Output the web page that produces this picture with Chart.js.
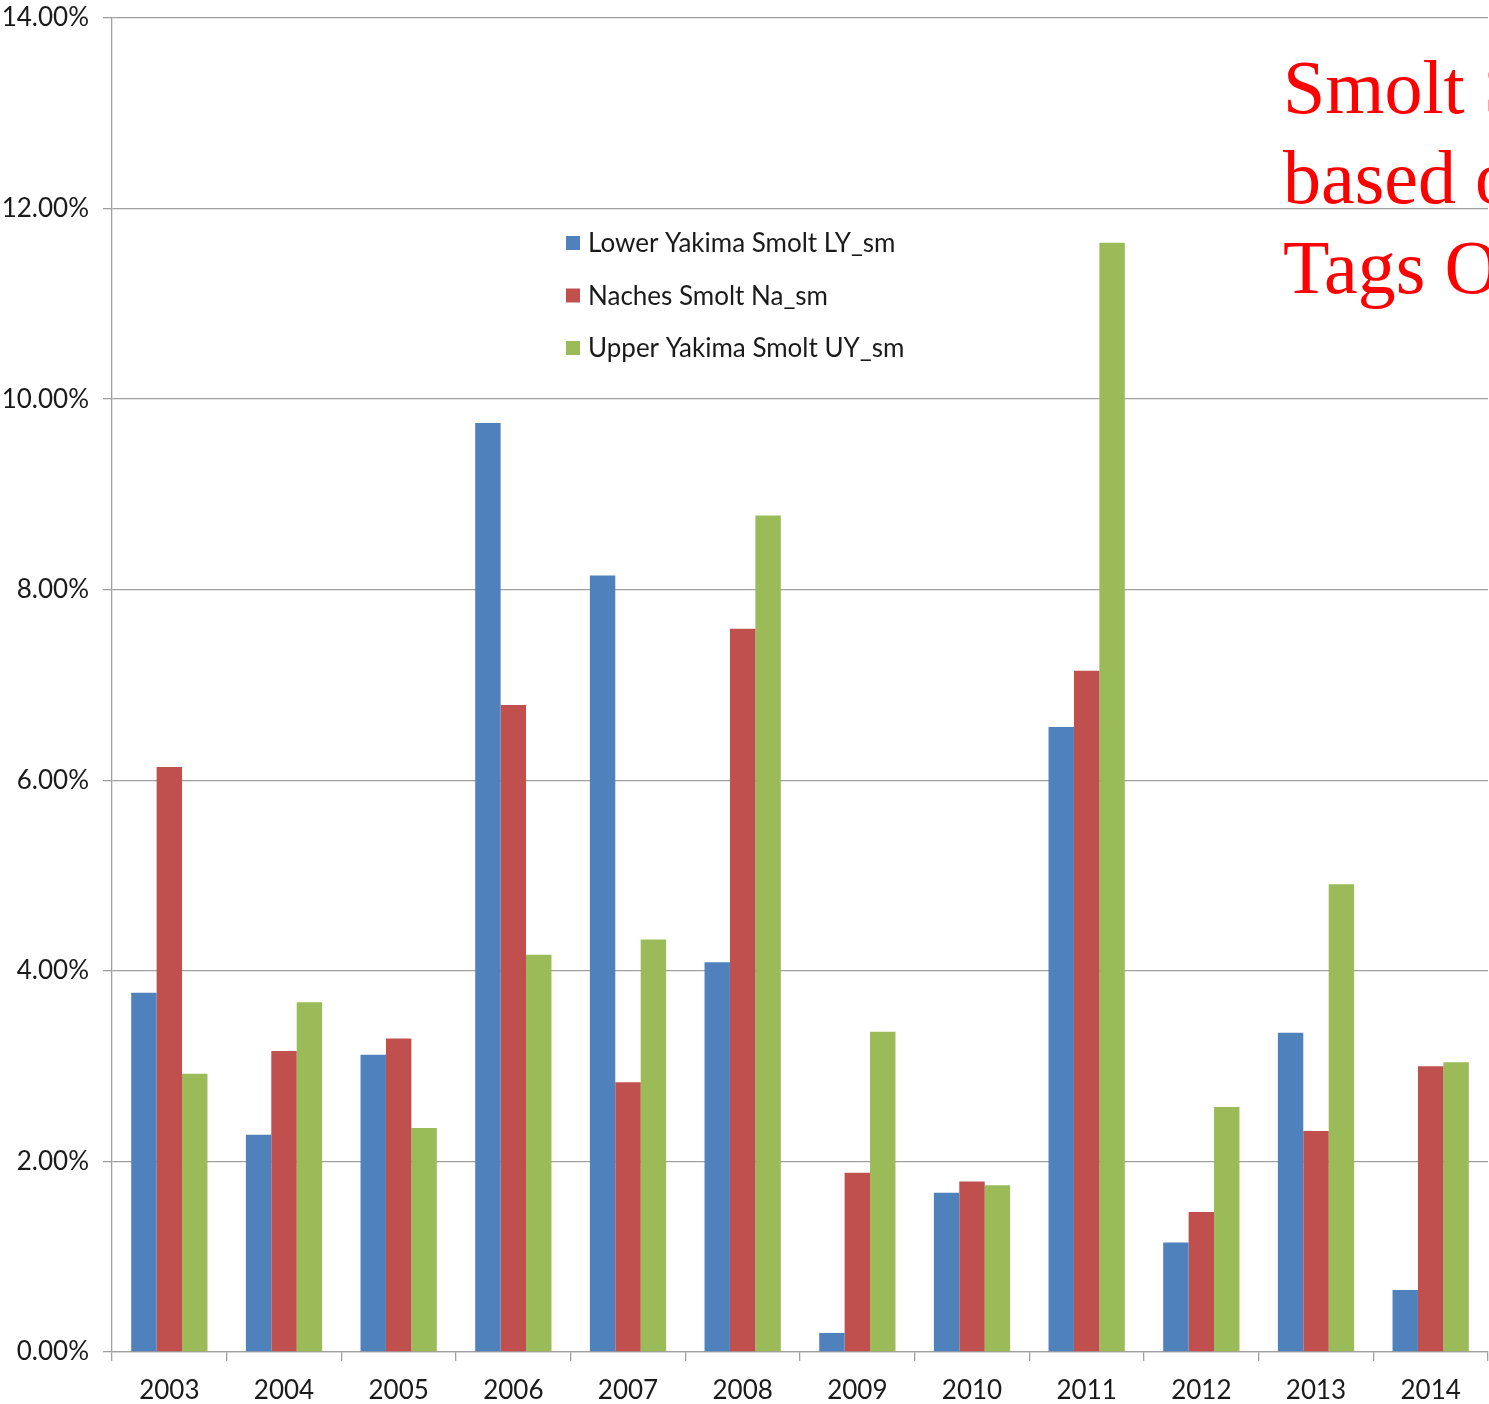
<!DOCTYPE html>
<html>
<head>
<meta charset="utf-8">
<script src="https://cdn.jsdelivr.net/npm/chart.js@4.4.1/dist/chart.umd.min.js"></script>
<style>
  html, body { margin: 0; padding: 0; background: #fff; overflow: hidden; }
  #wrap { position: relative; width: 1489px; height: 1404px; }
</style>
</head>
<body>
<div id="wrap"><canvas id="grafico" width="1489" height="1404"></canvas></div>
<script>
// anos (categorias)
const anos = ["2003", "2004", "2005", "2006", "2007", "2008", "2009", "2010", "2011", "2012", "2013", "2014"];

// sobrevivência em %
const lowerYakima = [3.77, 2.28, 3.12, 9.75, 8.15, 4.09, 0.20, 1.67, 6.56, 1.15, 3.35, 0.65];
const naches      = [6.14, 3.16, 3.29, 6.79, 2.83, 7.59, 1.88, 1.79, 7.15, 1.47, 2.32, 3.00];
const upperYakima = [2.92, 3.67, 2.35, 4.17, 4.33, 8.78, 3.36, 1.75, 11.64, 2.57, 4.91, 3.04];

const nomesSeries = ["Lower Yakima Smolt LY_sm", "Naches Smolt Na_sm", "Upper Yakima Smolt UY_sm"];
const titulo = ["Smolt Survival", "based on PIT", "Tags Only"];

const cores = ["#4F81BD", "#C0504D", "#9BBB59"];
const corEixo = "#A0A0A0";
const fonteEixo = "Lato, 'Open Sans', sans-serif";

// legenda desenhada dentro da área do gráfico
const legendaInterna = {
  id: "legendaInterna",
  afterDatasetsDraw(chart) {
    const ctx = chart.ctx;
    ctx.save();
    ctx.font = "26px " + fonteEixo;
    ctx.textBaseline = "middle";
    chart.data.datasets.forEach((ds, i) => {
      const y = 243 + i * 52.5;
      ctx.fillStyle = ds.backgroundColor;
      ctx.fillRect(566, y - 7, 14, 14);
      ctx.fillStyle = "#1a1a1a";
      ctx.fillText(ds.label, 588, y + 1);
    });
    ctx.restore();
  }
};

// texto vermelho no canto (cortado na borda)
const textoVermelho = {
  id: "textoVermelho",
  afterDraw(chart) {
    const ctx = chart.ctx;
    ctx.save();
    ctx.font = "76px 'Liberation Serif', 'Times New Roman', serif";
    ctx.fillStyle = "#FF0000";
    ctx.textBaseline = "alphabetic";
    titulo.forEach((linha, i) => {
      ctx.fillText(linha, 1283, 113 + i * 90);
    });
    ctx.restore();
  }
};

const ctx = document.getElementById("grafico").getContext("2d");
new Chart(ctx, {
  type: "bar",
  data: {
    labels: anos,
    datasets: [
      { label: nomesSeries[0], data: lowerYakima, backgroundColor: cores[0] },
      { label: nomesSeries[1], data: naches, backgroundColor: cores[1] },
      { label: nomesSeries[2], data: upperYakima, backgroundColor: cores[2] }
    ]
  },
  options: {
    responsive: false,
    animation: false,
    layout: { padding: { top: 18, right: 1, left: 0, bottom: 0 } },
    datasets: {
      bar: { categoryPercentage: 0.665, barPercentage: 1.0, borderWidth: 0 }
    },
    plugins: {
      legend: { display: false },
      tooltip: { enabled: false },
      title: { display: false }
    },
    scales: {
      x: {
        offset: true,
        grid: {
          offset: true,
          drawOnChartArea: false,
          drawTicks: true,
          tickLength: 9,
          color: corEixo,
          lineWidth: 1.3
        },
        border: { color: corEixo, width: 1.3 },
        ticks: {
          color: "#1a1a1a",
          font: { family: fonteEixo, size: 26 },
          padding: 14,
          maxRotation: 0,
          autoSkip: false
        },
        afterFit(scale) {
          scale.height = 52;
          scale.paddingLeft = 0;
          scale.paddingRight = 0;
        }
      },
      y: {
        min: 0,
        max: 14,
        ticks: {
          stepSize: 2,
          color: "#1a1a1a",
          font: { family: fonteEixo, size: 26 },
          padding: 14,
          callback: (v) => v.toFixed(2) + "%"
        },
        grid: {
          color: corEixo,
          lineWidth: 1.3,
          tickLength: 9
        },
        border: { color: corEixo, width: 1.3 },
        afterFit(scale) {
          scale.width = 112;
          scale.paddingTop = 0;
          scale.paddingBottom = 0;
        }
      }
    }
  },
  plugins: [legendaInterna, textoVermelho]
});
</script>
</body>
</html>
